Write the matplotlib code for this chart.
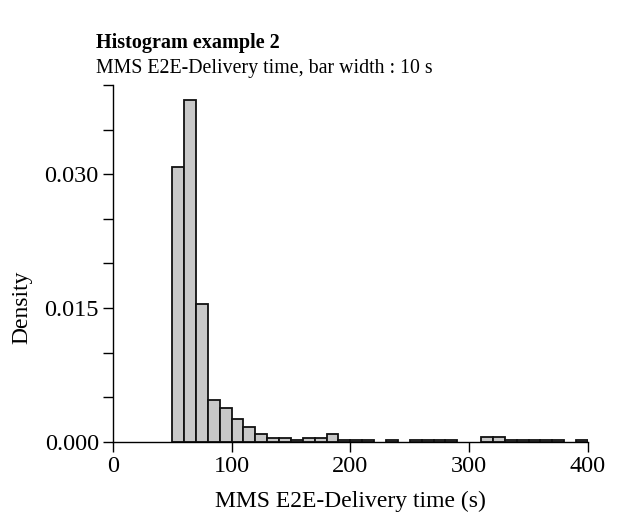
import matplotlib
matplotlib.use("Agg")
import matplotlib.pyplot as plt
import numpy as np

plt.rcParams['font.family'] = ['Liberation Serif', 'DejaVu Serif']

# Histogram data: bin left edges (s) and densities, bar width 10 s
bin_left = [50, 60, 70, 80, 90, 100, 110, 120, 130, 140, 150, 160, 170, 180, 190,
            200, 210, 220, 230, 240, 250, 260, 270, 280, 290, 300, 310, 320, 330,
            340, 350, 360, 370, 380, 390]
density = [0.03086, 0.03834, 0.01541, 0.00464, 0.00378, 0.00251, 0.00168, 0.00086,
           0.00041, 0.00041, 0.00019, 0.00041, 0.00041, 0.00086, 0.00015,
           0.00015, 0.00015, 0.0, 0.00015, 0.0, 0.00015, 0.00015, 0.00015, 0.00015,
           0.0, 0.0, 0.00049, 0.00049, 0.00015,
           0.00015, 0.00015, 0.00015, 0.00015, 0.0, 0.00015]
bar_width = 10

x_ticks = [0, 100, 200, 300, 400]
y_major = [0.0, 0.015, 0.030]
y_minor = [0.005, 0.010, 0.020, 0.025, 0.035, 0.040]

title = "Histogram example 2"
subtitle = "MMS E2E-Delivery time, bar width : 10 s"
xlabel = "MMS E2E-Delivery time (s)"
ylabel = "Density"

fig = plt.figure(figsize=(6.21, 5.17), dpi=100)
ax = fig.add_axes([0.1815, 0.1456, 0.7654, 0.690])

bl = np.array(bin_left, dtype=float)
dn = np.array(density)
mask = dn > 0
ax.bar(bl[mask], dn[mask], width=bar_width, align='edge',
       color='#c8c8c8', edgecolor='#111111', linewidth=1.3, zorder=2)

ax.set_xlim(0, 400)
ax.set_ylim(0, 0.040)
for s in ['top', 'right']:
    ax.spines[s].set_visible(False)
for s in ['left', 'bottom']:
    ax.spines[s].set_linewidth(1.0)
    ax.spines[s].set_zorder(3)

ax.set_xticks(x_ticks)
ax.set_xticklabels([str(v) for v in x_ticks])
ax.set_yticks(y_major)
ax.set_yticklabels([f"{v:.3f}" for v in y_major])
ax.set_yticks(y_minor, minor=True)
ax.tick_params(axis='both', which='major', labelsize=17.5, length=7, width=1.0,
               direction='out', pad=3)
ax.tick_params(axis='y', which='minor', length=7, width=1.0, direction='out')

ax.set_xlabel(xlabel, fontsize=17, labelpad=10)
ax.set_ylabel(ylabel, fontsize=17, labelpad=7)
ax.yaxis.set_label_coords(-0.168, 0.378)

fig.text(96 / 621, 1 - 43 / 517, title, fontsize=14.5, fontweight='bold',
         ha='left', va='center')
fig.text(96 / 621, 1 - 68 / 517, subtitle, fontsize=14.3,
         ha='left', va='center')

fig.savefig("out.png", dpi=100)
